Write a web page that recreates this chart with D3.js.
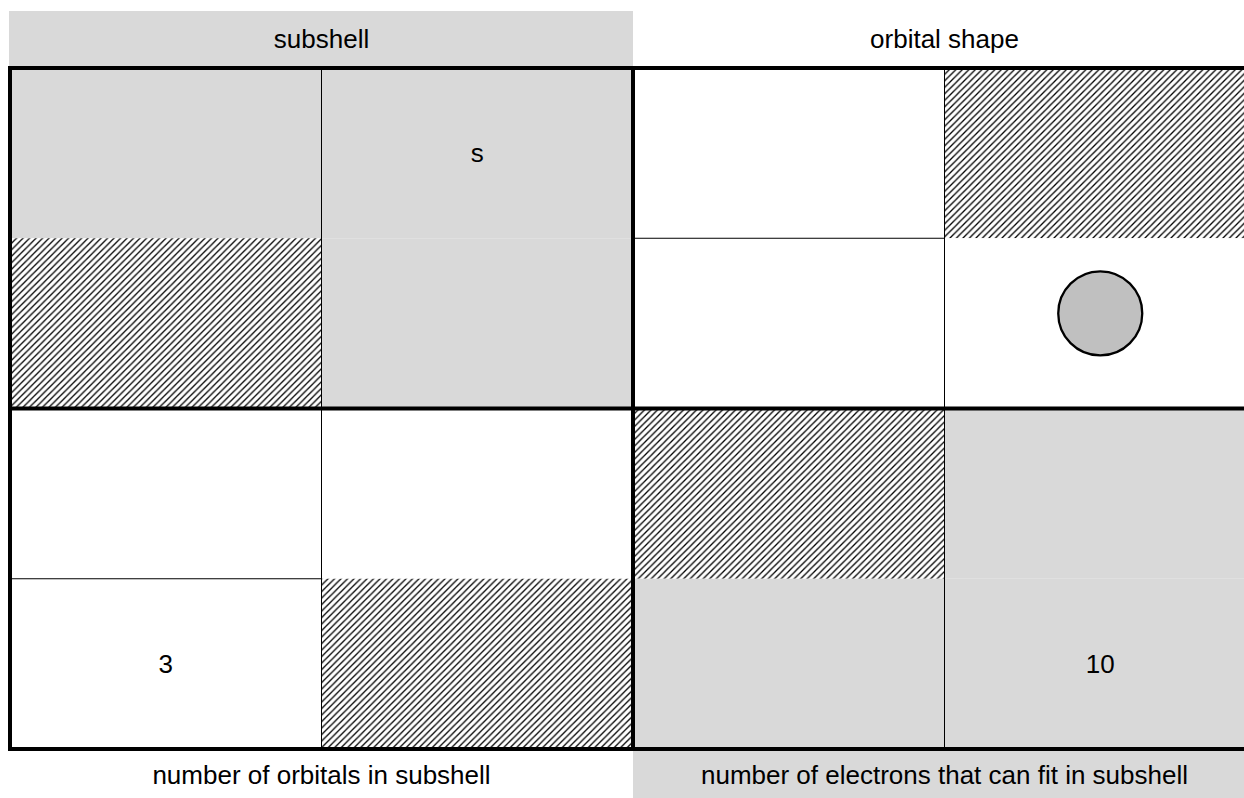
<!DOCTYPE html>
<html>
<head>
<meta charset="utf-8">
<script src="https://cdn.jsdelivr.net/npm/d3@7"></script>
<style>
  body { margin: 0; background: #fff; }
  svg { display: block; font-family: "Liberation Sans", Arial, sans-serif; }
</style>
</head>
<body>
<div class="chart"></div>
<script>
// header / footer bands
const topLabels = ["subshell", "orbital shape"];
const topFills = ["grey", "white"];
const bottomLabels = ["number of orbitals in subshell", "number of electrons that can fit in subshell"];
const bottomFills = ["white", "grey"];

// 4x4 cells, row by row
const rows = [0, 1, 2, 3];
const cols = [0, 1, 2, 3];
const cellFills = [
    ["grey", "grey", "white", "hatch"],
    ["hatch", "grey", "white", "white"],
    ["white", "white", "hatch", "grey"],
    ["white", "hatch", "grey", "grey"]
];
const cellTexts = [
    ["", "s", "", ""],
    ["", "", "", ""],
    ["", "", "", ""],
    ["3", "", "", "10"]
];
const cellMarks = [
    ["", "", "", ""],
    ["", "", "", "circle"],
    ["", "", "", ""],
    ["", "", "", ""]
];

const W = 1244, H = 798;
const FS = 26;
const svg = d3.select(".chart").append("svg")
    .attr("width", W)
    .attr("height", H);

const x = d3.scaleBand().domain(cols).range([10, 1256]);
const y = d3.scaleBand().domain(rows).range([68, 749]);
const half = d3.scaleBand().domain([0, 1]).range([10, 1256]);

const colors = { grey: "#d9d9d9", white: "#ffffff", hatch: "url(#hatch)" };

const defs = svg.append("defs");
const pat = defs.append("pattern")
    .attr("id", "hatch")
    .attr("patternUnits", "userSpaceOnUse")
    .attr("width", 6.5)
    .attr("height", 6.5);
pat.append("rect").attr("width", 6.5).attr("height", 6.5).attr("fill", "#fff");
pat.append("path")
    .attr("d", "M-1,1 L1,-1 M0,6.5 L6.5,0 M5.5,7.5 L7.5,5.5")
    .attr("stroke", "#000")
    .attr("stroke-width", 1.3);

// header and footer
svg.selectAll("rect.top")
    .data(topLabels)
    .enter()
    .append("rect")
    .attr("class", "top")
    .attr("x", (d, i) => i === 0 ? 9 : half(i))
    .attr("y", 11)
    .attr("width", (d, i) => half.bandwidth() + (i === 0 ? 1 : 0))
    .attr("height", 55)
    .attr("fill", (d, i) => colors[topFills[i]]);
svg.selectAll("text.top")
    .data(topLabels)
    .enter()
    .append("text")
    .attr("class", "top")
    .attr("x", (d, i) => half(i) + half.bandwidth() / 2)
    .attr("y", 38.5)
    .attr("text-anchor", "middle")
    .attr("dominant-baseline", "central")
    .attr("font-size", FS)
    .text(d => d);

svg.selectAll("rect.bottom")
    .data(bottomLabels)
    .enter()
    .append("rect")
    .attr("class", "bottom")
    .attr("x", (d, i) => half(i))
    .attr("y", 751)
    .attr("width", half.bandwidth())
    .attr("height", 55)
    .attr("fill", (d, i) => colors[bottomFills[i]]);
svg.selectAll("text.bottom")
    .data(bottomLabels)
    .enter()
    .append("text")
    .attr("class", "bottom")
    .attr("x", (d, i) => half(i) + half.bandwidth() / 2)
    .attr("y", 775)
    .attr("text-anchor", "middle")
    .attr("dominant-baseline", "central")
    .attr("font-size", FS)
    .text(d => d);

// cells
const cells = [];
rows.forEach(r => cols.forEach(c => cells.push({
    r, c, fill: cellFills[r][c], text: cellTexts[r][c], mark: cellMarks[r][c]
})));

const g = svg.selectAll("g.cell")
    .data(cells)
    .enter()
    .append("g")
    .attr("class", "cell")
    .attr("transform", d => "translate(" + x(d.c) + "," + y(d.r) + ")");

g.append("rect")
    .attr("width", x.bandwidth())
    .attr("height", y.bandwidth())
    .attr("fill", d => colors[d.fill]);

g.filter(d => d.text)
    .append("text")
    .attr("x", x.bandwidth() / 2)
    .attr("y", y.bandwidth() / 2)
    .attr("text-anchor", "middle")
    .attr("dominant-baseline", "central")
    .attr("font-size", FS)
    .text(d => d.text);

g.filter(d => d.mark === "circle")
    .append("circle")
    .attr("cx", x.bandwidth() / 2)
    .attr("cy", y.bandwidth() / 2 - 10)
    .attr("r", 42)
    .attr("fill", "#c0c0c0")
    .attr("stroke", "#000")
    .attr("stroke-width", 2.3);

// thin dividers: vertical inside each quadrant, horizontal only between two white cells
const thin = svg.append("g").attr("stroke", "#000").attr("stroke-width", 1);
[1, 3].forEach(c => {
    thin.append("line")
        .attr("x1", x(c)).attr("x2", x(c))
        .attr("y1", y(0)).attr("y2", y(3) + y.bandwidth());
});
[1, 3].forEach(r => {
    cols.forEach(c => {
        if (cellFills[r - 1][c] === "white" && cellFills[r][c] === "white") {
            thin.append("line")
                .attr("x1", x(c)).attr("x2", x(c) + x.bandwidth())
                .attr("y1", y(r)).attr("y2", y(r));
        }
    });
});

// thick quadrant borders
const thick = svg.append("g").attr("stroke", "#000").attr("stroke-width", 4).attr("fill", "none");
[0, 2].forEach(c => {
    thick.append("line")
        .attr("x1", x(c)).attr("x2", x(c))
        .attr("y1", y(0) - 2).attr("y2", y(3) + y.bandwidth() + 2);
});
[0, 2].forEach(r => {
    thick.append("line")
        .attr("x1", x(0) - 2).attr("x2", x(3) + x.bandwidth())
        .attr("y1", y(r)).attr("y2", y(r));
});
thick.append("line")
    .attr("x1", x(0) - 2).attr("x2", x(3) + x.bandwidth())
    .attr("y1", y(3) + y.bandwidth()).attr("y2", y(3) + y.bandwidth());
thick.append("line")
    .attr("x1", x(3) + x.bandwidth()).attr("x2", x(3) + x.bandwidth())
    .attr("y1", y(0)).attr("y2", y(3) + y.bandwidth());
</script>
</body>
</html>
